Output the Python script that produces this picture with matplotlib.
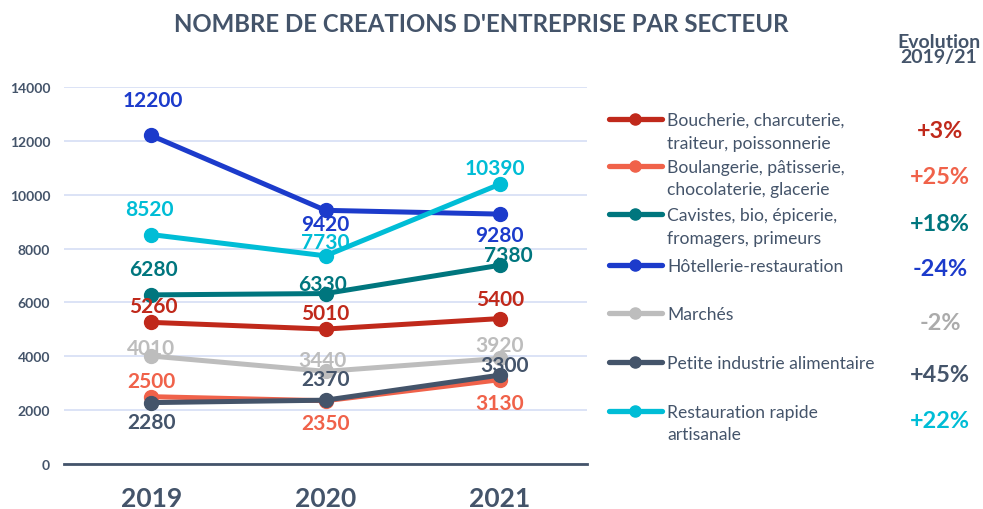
import matplotlib
matplotlib.use("Agg")
import matplotlib.pyplot as plt
from matplotlib.lines import Line2D

plt.rcParams['font.family'] = ['Lato', 'DejaVu Sans']

years = ["2019", "2020", "2021"]
secteurs = [
    "Boucherie, charcuterie,\ntraiteur, poissonnerie",
    "Boulangerie, pâtisserie,\nchocolaterie, glacerie",
    "Cavistes, bio, épicerie,\nfromagers, primeurs",
    "Hôtellerie-restauration",
    "Marchés",
    "Petite industrie alimentaire",
    "Restauration rapide\nartisanale",
]
boucherie = [5260, 5010, 5400]
boulangerie = [2500, 2350, 3130]
cavistes = [6280, 6330, 7380]
hotellerie = [12200, 9420, 9280]
marches = [4010, 3440, 3920]
petite_industrie = [2280, 2370, 3300]
restauration_rapide = [8520, 7730, 10390]
series = [boucherie, boulangerie, cavistes, hotellerie, marches, petite_industrie, restauration_rapide]
colors = ["#C0291B", "#F0624A", "#00767E", "#1C3BCB", "#BDBDBD", "#44546A", "#00BDD6"]
pct_colors = ["#C0291B", "#F0624A", "#00767E", "#1C3BCB", "#ABABAB", "#44546A", "#00BDD6"]
yticks = [0, 2000, 4000, 6000, 8000, 10000, 12000, 14000]

# label offsets in pixels (dx, dy) per series/year
offsets = [
    [(2, 16), (0, 16), (0, 20)],
    [(0, 16), (0, -22), (0, -23)],
    [(2, 26), (-3, 10), (8, 10)],
    [(2, 35), (0, -14), (0, -21)],
    [(0, 8), (-3, 11), (0, 13)],
    [(0, -19), (0, 21), (5, 10)],
    [(-2, 26), (0, 14), (-5, 16)],
]

W, H = 983, 510
fig = plt.figure(figsize=(W / 100, H / 100), dpi=100)
ax = fig.add_axes([64 / W, 1 - 465 / H, (587 - 64) / W, (465 - 88) / H])

x = list(range(len(years)))
text_col = "#44546A"
for i, (vals, c) in enumerate(zip(series, colors)):
    ax.plot(x, vals, color=c, lw=3.6, marker="o", ms=10, solid_capstyle="round",
            zorder=3 + i * 0.1)
for i, (vals, c) in enumerate(zip(series, colors)):
    for j, v in enumerate(vals):
        dx, dy = offsets[i][j]
        ax.annotate(f"{v}", (x[j], v), xytext=(dx, dy), textcoords="offset pixels",
                    ha="center", va="center", fontsize=15, fontweight="bold",
                    color=c, zorder=10)

ax.set_xlim(-0.5, 2.5)
ax.set_ylim(0, 14000)
ax.set_yticks(yticks)
ax.set_yticklabels([str(t) for t in yticks], fontsize=10, fontweight="bold", color=text_col)
ax.set_xticks(x)
ax.set_xticklabels(years, fontsize=19, fontweight="bold", color=text_col)
ax.tick_params(axis="both", length=0)
ax.tick_params(axis="y", pad=10)
ax.tick_params(axis="x", pad=16)
ax.grid(axis="y", color="#D6DEF5", lw=1.2)
ax.set_axisbelow(True)
for s in ["top", "right", "left"]:
    ax.spines[s].set_visible(False)
ax.spines["bottom"].set_color(text_col)
ax.spines["bottom"].set_linewidth(2)
ax.spines["bottom"].set_zorder(2)

fig.text(481 / W, 1 - 25 / H, "NOMBRE DE CREATIONS D'ENTREPRISE PAR SECTEUR",
         ha="center", va="center", fontsize=17.3, fontweight="bold", color=text_col)
fig.text(939 / W, 1 - 50 / H, "Evolution\n2019/21", ha="center", va="center",
         fontsize=14, fontweight="bold", color=text_col, linespacing=0.85)

# Legend and evolution
leg_y = [120, 167, 215, 266, 314, 363, 412]
pct_y = [131, 178, 225, 270, 324, 375, 422]
for i, (name, vals, c) in enumerate(zip(secteurs, series, colors)):
    yy = 1 - leg_y[i] / H
    fig.add_artist(Line2D([609 / W, 662 / W], [yy, yy], color=c, lw=3.8,
                          solid_capstyle="round", transform=fig.transFigure))
    fig.add_artist(Line2D([635 / W], [yy], color=c, marker="o", ms=8,
                          transform=fig.transFigure))
    fig.text(667 / W, yy + 7 / H, name, ha="left", va="top", fontsize=12.6,
             color=text_col, linespacing=1.5)
    pct = round((vals[-1] / vals[0] - 1) * 100)
    fig.text(940 / W, 1 - pct_y[i] / H, f"{pct:+d}%", ha="center", va="center",
             fontsize=16.8, fontweight="bold", color=pct_colors[i])

fig.savefig("out.png", dpi=100, facecolor="white")
